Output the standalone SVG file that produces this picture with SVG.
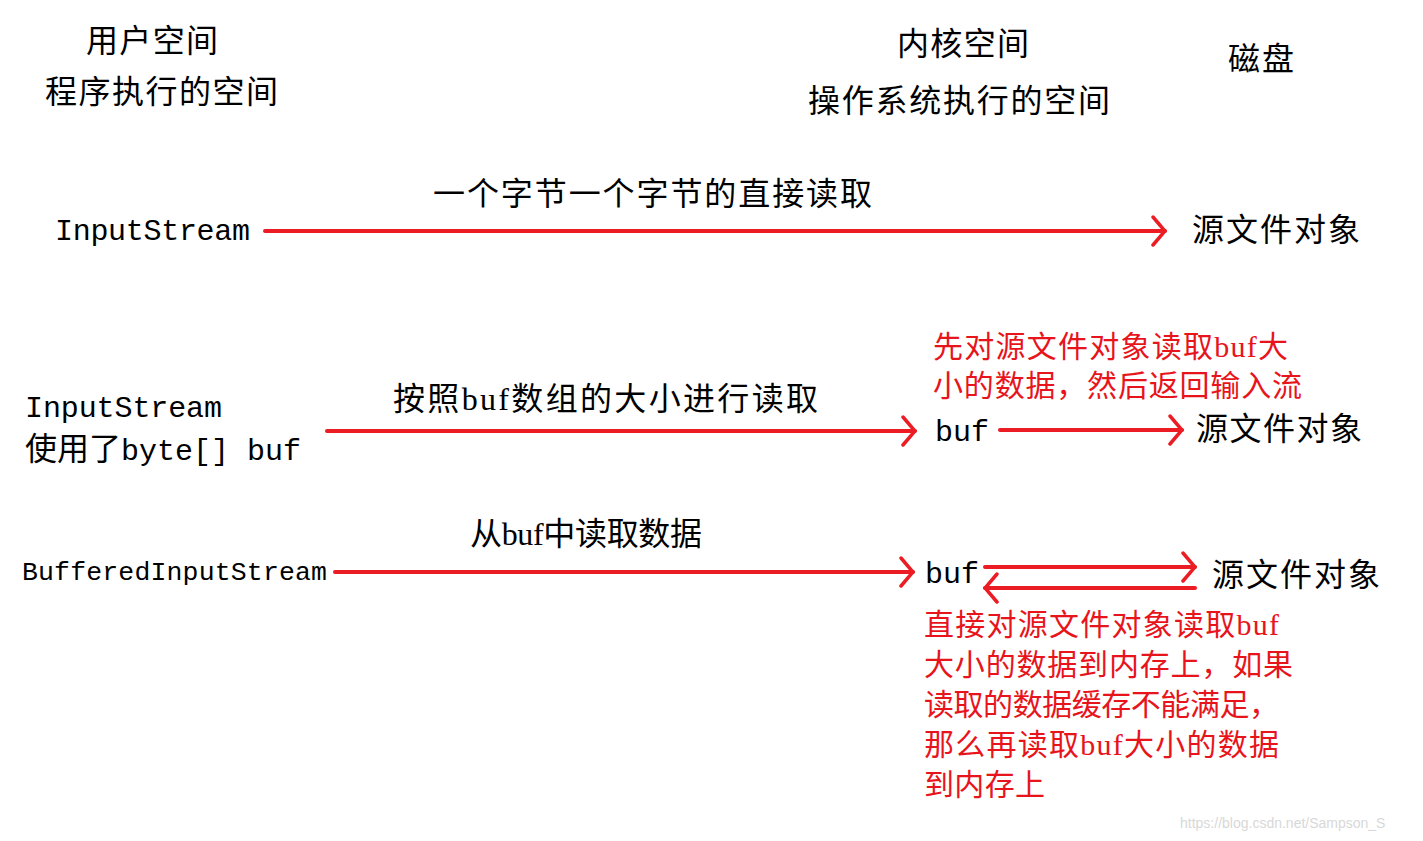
<svg xmlns="http://www.w3.org/2000/svg" width="1423" height="841" viewBox="0 0 1423 841">
<style>
text{font-family:"Liberation Serif","Noto Sans CJK SC",serif;font-size:32px;fill:#000}
.m{font-family:"Liberation Mono","Noto Sans CJK SC",monospace;font-size:30px}
.r{fill:#e8141c;font-size:30px}
.w{font-family:"Liberation Sans",sans-serif;font-size:14px;fill:#d8d8d8}
.c{stroke:#ec1c24;stroke-width:4;fill:none;stroke-linecap:round}
</style>
<defs>
<marker id="a" markerWidth="16" markerHeight="32" refX="14" refY="16" orient="auto" markerUnits="userSpaceOnUse" viewBox="0 0 16 32">
<polyline points="2,2 14,16 2,30" fill="none" stroke="#ec1c24" stroke-width="3.5" stroke-linecap="round"/>
</marker>
</defs>
<g id="headers">
<text x="86" y="52" textLength="132">用户空间</text>
<text x="45" y="103" textLength="233">程序执行的空间</text>
<text x="897" y="55" textLength="132">内核空间</text>
<text x="808" y="112" textLength="302">操作系统执行的空间</text>
<text x="1228" y="70" textLength="66">磁盘</text>
</g>
<g id="row1">
<text x="433" y="205" textLength="439">一个字节一个字节的直接读取</text>
<text class="m" x="55" y="240" textLength="195">InputStream</text>
<text x="1192" y="241" textLength="168">源文件对象</text>
</g>
<g id="row2">
<text class="r" x="933" y="357" textLength="355">先对源文件对象读取buf大</text>
<text class="r" x="933" y="396" textLength="369">小的数据，然后返回输入流</text>
<text class="m" x="25" y="417" textLength="197">InputStream</text>
<text x="25" y="460">使用了<tspan class="m" style="font-family:'Liberation Mono',monospace">byte[] buf</tspan></text>
<text x="393" y="410" textLength="425">按照buf数组的大小进行读取</text>
<text class="m" x="935" y="441">buf</text>
<text x="1196" y="440" textLength="166">源文件对象</text>
</g>
<g id="row3">
<text x="470" y="545" textLength="232">从buf中读取数据</text>
<text class="m" style="font-size:26.5px" x="22" y="580" textLength="305">BufferedInputStream</text>
<text class="m" x="925" y="583">buf</text>
<text x="1212" y="586" textLength="168">源文件对象</text>
<text class="r" x="924" y="635" textLength="355">直接对源文件对象读取buf</text>
<text class="r" x="924" y="675" textLength="369">大小的数据到内存上，如果</text>
<text class="r" x="924" y="715" textLength="355">读取的数据缓存不能满足，</text>
<text class="r" x="924" y="755" textLength="355">那么再读取buf大小的数据</text>
<text class="r" x="924" y="795" textLength="121">到内存上</text>
</g>
<g id="connectors">
<line class="c" x1="265" y1="231" x2="1165" y2="231" marker-end="url(#a)"/>
<line class="c" x1="327" y1="431" x2="915" y2="431" marker-end="url(#a)"/>
<line class="c" x1="1000" y1="430" x2="1182" y2="430" marker-end="url(#a)"/>
<line class="c" x1="335" y1="572" x2="913" y2="572" marker-end="url(#a)"/>
<line class="c" x1="985" y1="567" x2="1195" y2="567" marker-end="url(#a)"/>
<line class="c" x1="1195" y1="588" x2="985" y2="588" marker-end="url(#a)"/>
</g>
<text class="w" x="1180" y="828">https://blog.csdn.net/Sampson_S</text>
</svg>
